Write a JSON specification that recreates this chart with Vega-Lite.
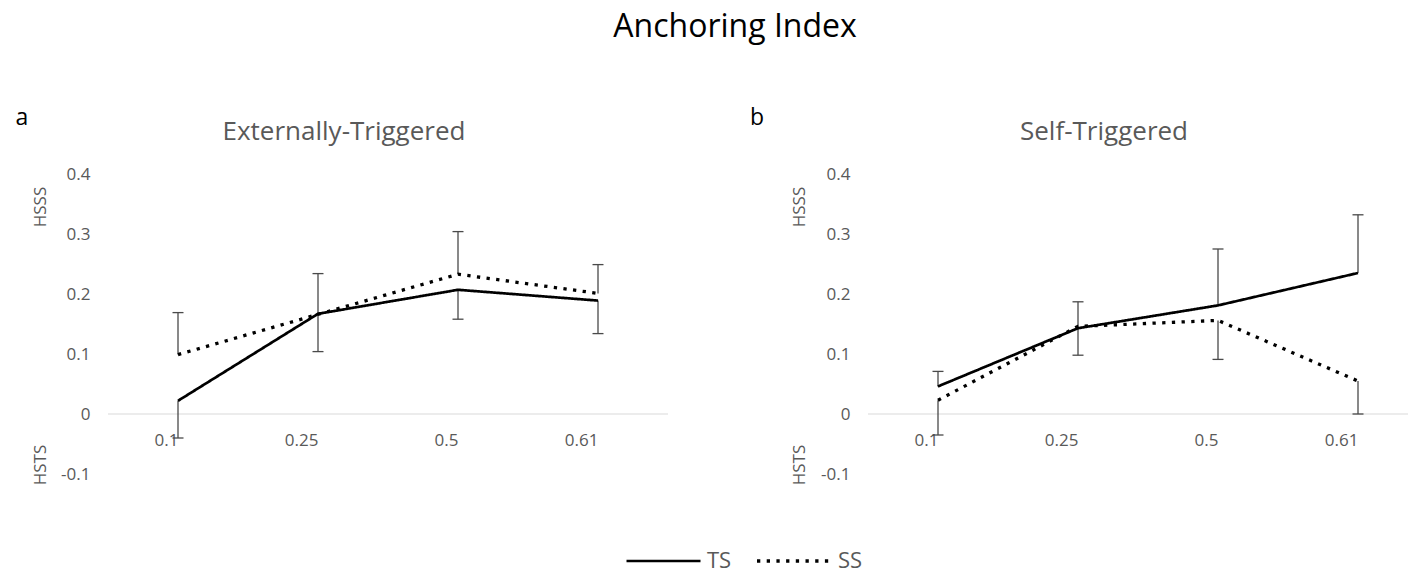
{
  "$schema": "https://vega.github.io/schema/vega-lite/v6.json",
  "padding": {"left": 15, "top": 11, "right": 0, "bottom": 0},
  "background": "white",
  "title": {"text": "Anchoring Index", "fontSize": 32, "font": "Open Sans", "fontWeight": "normal", "color": "#000000", "anchor": "middle", "baseline": "alphabetic", "offset": 38, "dx": 23},
  "datasets": {
    "anchoring": [
      {"panel": "Externally-Triggered", "x": "0.1", "series": "TS", "value": 0.022, "err": -0.040},
      {"panel": "Externally-Triggered", "x": "0.25", "series": "TS", "value": 0.167, "err": 0.104},
      {"panel": "Externally-Triggered", "x": "0.5", "series": "TS", "value": 0.207, "err": 0.158},
      {"panel": "Externally-Triggered", "x": "0.61", "series": "TS", "value": 0.189, "err": 0.134},
      {"panel": "Externally-Triggered", "x": "0.1", "series": "SS", "value": 0.099, "err": 0.169},
      {"panel": "Externally-Triggered", "x": "0.25", "series": "SS", "value": 0.166, "err": 0.234},
      {"panel": "Externally-Triggered", "x": "0.5", "series": "SS", "value": 0.233, "err": 0.304},
      {"panel": "Externally-Triggered", "x": "0.61", "series": "SS", "value": 0.201, "err": 0.249},
      {"panel": "Self-Triggered", "x": "0.1", "series": "TS", "value": 0.046, "err": 0.071},
      {"panel": "Self-Triggered", "x": "0.25", "series": "TS", "value": 0.143, "err": 0.187},
      {"panel": "Self-Triggered", "x": "0.5", "series": "TS", "value": 0.181, "err": 0.275},
      {"panel": "Self-Triggered", "x": "0.61", "series": "TS", "value": 0.235, "err": 0.332},
      {"panel": "Self-Triggered", "x": "0.1", "series": "SS", "value": 0.023, "err": -0.035},
      {"panel": "Self-Triggered", "x": "0.25", "series": "SS", "value": 0.146, "err": 0.098},
      {"panel": "Self-Triggered", "x": "0.5", "series": "SS", "value": 0.156, "err": 0.091},
      {"panel": "Self-Triggered", "x": "0.61", "series": "SS", "value": 0.055, "err": 0.0}
    ]
  },
  "bounds": "flush",
  "spacing": 200,
  "hconcat": [
    {
      "width": 560,
      "height": 300,
      "title": {"text": "Externally-Triggered", "fontSize": 26, "font": "Open Sans", "fontWeight": "normal", "color": "#595959", "anchor": "middle", "baseline": "alphabetic", "dx": -44, "offset": -59},
      "layer": [
        {
          "data": {"values": [{}]},
          "mark": {"type": "rule", "color": "#d9d9d9", "strokeWidth": 1},
          "encoding": {"y": {"datum": 0, "type": "quantitative", "title": null}}
        },
        {
          "data": {"name": "anchoring"},
          "transform": [{"filter": "datum.panel == 'Externally-Triggered'"}],
          "mark": {"type": "rule", "color": "#4a4a4a", "strokeWidth": 1.3},
          "encoding": {
            "x": {"field": "x", "type": "ordinal", "sort": ["0.1", "0.25", "0.5", "0.61"], "title": null},
            "y": {"field": "value", "type": "quantitative", "title": null},
            "y2": {"field": "err"}
          }
        },
        {
          "data": {"name": "anchoring"},
          "transform": [{"filter": "datum.panel == 'Externally-Triggered'"}],
          "mark": {"type": "tick", "color": "#4a4a4a", "size": 11, "thickness": 1.3, "orient": "horizontal", "opacity": 1},
          "encoding": {
            "x": {"field": "x", "type": "ordinal", "sort": ["0.1", "0.25", "0.5", "0.61"], "title": null},
            "y": {"field": "err", "type": "quantitative", "title": null}
          }
        },
        {
          "data": {"name": "anchoring"},
          "transform": [{"filter": "datum.panel == 'Externally-Triggered'"}],
          "mark": {"type": "line", "color": "#000000", "strokeCap": "butt"},
          "encoding": {
            "x": {
              "field": "x", "type": "ordinal", "sort": ["0.1", "0.25", "0.5", "0.61"], "title": null,
              "scale": {"type": "point", "range": [70, 490], "padding": 0},
              "axis": {"labelAngle": 0, "labelPadding": 26, "offset": -60, "domain": false, "ticks": false, "tickSize": 0, "grid": false}
            },
            "y": {
              "field": "value", "type": "quantitative", "title": null,
              "scale": {"domain": [-0.1, 0.4], "nice": false, "zero": false},
              "axis": {"values": [-0.1, 0, 0.1, 0.2, 0.3, 0.4], "labelExpr": "datum.value < 0 ? '-' + format(-datum.value, '.1~f') : format(datum.value, '.1~f')", "labelPadding": 18, "domain": false, "ticks": false, "tickSize": 0, "grid": false}
            },
            "strokeDash": {
              "field": "series", "type": "nominal",
              "scale": {"domain": ["TS", "SS"], "range": [[1, 0], [3.3, 6.4]]},
              "legend": {"orient": "none", "legendX": 517, "legendY": 374, "direction": "horizontal", "title": null, "symbolType": "stroke", "symbolSize": 5476, "clipHeight": 26, "symbolStrokeWidth": 3, "symbolStrokeColor": "#000000", "labelFontSize": 22, "labelFont": "Open Sans", "labelColor": "#595959", "labelOffset": 5, "columnPadding": 23}
            },
            "strokeWidth": {
              "field": "series", "type": "nominal",
              "scale": {"domain": ["TS", "SS"], "range": [2.7, 3.3]},
              "legend": null
            }
          }
        },
        {
          "data": {"values": [{}]},
          "mark": {"type": "text", "text": "a", "fontSize": 23, "font": "Open Sans", "color": "#000000", "align": "center", "baseline": "alphabetic", "dx": -156, "dy": -49},
          "encoding": {"x": {"datum": "0.1", "type": "ordinal"}, "y": {"datum": 0.4, "type": "quantitative"}}
        },
        {
          "data": {"values": [{}]},
          "mark": {"type": "text", "text": "HSSS", "fontSize": 17, "font": "Open Sans", "color": "#595959", "align": "center", "baseline": "middle", "angle": 270, "dy": -137},
          "encoding": {"x": {"datum": "0.1", "type": "ordinal"}, "y": {"datum": 0.345, "type": "quantitative"}}
        },
        {
          "data": {"values": [{}]},
          "mark": {"type": "text", "text": "HSTS", "fontSize": 17, "font": "Open Sans", "color": "#595959", "align": "center", "baseline": "middle", "angle": 270, "dy": -137},
          "encoding": {"x": {"datum": "0.1", "type": "ordinal"}, "y": {"datum": -0.085, "type": "quantitative"}}
        }
      ]
    },
    {
      "width": 540,
      "height": 300,
      "title": {"text": "Self-Triggered", "fontSize": 26, "font": "Open Sans", "fontWeight": "normal", "color": "#595959", "anchor": "middle", "baseline": "alphabetic", "dx": -34, "offset": -59},
      "layer": [
        {
          "data": {"values": [{}]},
          "mark": {"type": "rule", "color": "#d9d9d9", "strokeWidth": 1},
          "encoding": {"y": {"datum": 0, "type": "quantitative", "title": null}}
        },
        {
          "data": {"name": "anchoring"},
          "transform": [{"filter": "datum.panel == 'Self-Triggered'"}],
          "mark": {"type": "rule", "color": "#4a4a4a", "strokeWidth": 1.3},
          "encoding": {
            "x": {"field": "x", "type": "ordinal", "sort": ["0.1", "0.25", "0.5", "0.61"], "title": null},
            "y": {"field": "value", "type": "quantitative", "title": null},
            "y2": {"field": "err"}
          }
        },
        {
          "data": {"name": "anchoring"},
          "transform": [{"filter": "datum.panel == 'Self-Triggered'"}],
          "mark": {"type": "tick", "color": "#4a4a4a", "size": 11, "thickness": 1.3, "orient": "horizontal", "opacity": 1},
          "encoding": {
            "x": {"field": "x", "type": "ordinal", "sort": ["0.1", "0.25", "0.5", "0.61"], "title": null},
            "y": {"field": "err", "type": "quantitative", "title": null}
          }
        },
        {
          "data": {"name": "anchoring"},
          "transform": [{"filter": "datum.panel == 'Self-Triggered'"}],
          "mark": {"type": "line", "color": "#000000", "strokeCap": "butt"},
          "encoding": {
            "x": {
              "field": "x", "type": "ordinal", "sort": ["0.1", "0.25", "0.5", "0.61"], "title": null,
              "scale": {"type": "point", "range": [70, 490], "padding": 0},
              "axis": {"labelAngle": 0, "labelPadding": 26, "offset": -60, "domain": false, "ticks": false, "tickSize": 0, "grid": false}
            },
            "y": {
              "field": "value", "type": "quantitative", "title": null,
              "scale": {"domain": [-0.1, 0.4], "nice": false, "zero": false},
              "axis": {"values": [-0.1, 0, 0.1, 0.2, 0.3, 0.4], "labelExpr": "datum.value < 0 ? '-' + format(-datum.value, '.1~f') : format(datum.value, '.1~f')", "labelPadding": 18, "domain": false, "ticks": false, "tickSize": 0, "grid": false}
            },
            "strokeDash": {
              "field": "series", "type": "nominal",
              "scale": {"domain": ["TS", "SS"], "range": [[1, 0], [3.3, 6.4]]},
              "legend": {"orient": "none", "legendX": 517, "legendY": 374, "direction": "horizontal", "title": null, "symbolType": "stroke", "symbolSize": 5476, "clipHeight": 26, "symbolStrokeWidth": 3, "symbolStrokeColor": "#000000", "labelFontSize": 22, "labelFont": "Open Sans", "labelColor": "#595959", "labelOffset": 5, "columnPadding": 23}
            },
            "strokeWidth": {
              "field": "series", "type": "nominal",
              "scale": {"domain": ["TS", "SS"], "range": [2.7, 3.3]},
              "legend": null
            }
          }
        },
        {
          "data": {"values": [{}]},
          "mark": {"type": "text", "text": "b", "fontSize": 23, "font": "Open Sans", "color": "#000000", "align": "center", "baseline": "alphabetic", "dx": -181, "dy": -49},
          "encoding": {"x": {"datum": "0.1", "type": "ordinal"}, "y": {"datum": 0.4, "type": "quantitative"}}
        },
        {
          "data": {"values": [{}]},
          "mark": {"type": "text", "text": "HSSS", "fontSize": 17, "font": "Open Sans", "color": "#595959", "align": "center", "baseline": "middle", "angle": 270, "dy": -138},
          "encoding": {"x": {"datum": "0.1", "type": "ordinal"}, "y": {"datum": 0.345, "type": "quantitative"}}
        },
        {
          "data": {"values": [{}]},
          "mark": {"type": "text", "text": "HSTS", "fontSize": 17, "font": "Open Sans", "color": "#595959", "align": "center", "baseline": "middle", "angle": 270, "dy": -138},
          "encoding": {"x": {"datum": "0.1", "type": "ordinal"}, "y": {"datum": -0.085, "type": "quantitative"}}
        }
      ]
    }
  ],
  "config": {
    "font": "Open Sans",
    "view": {"stroke": null},
    "axis": {"labelFont": "Open Sans", "labelFontSize": 17, "labelColor": "#595959"}
  }
}
